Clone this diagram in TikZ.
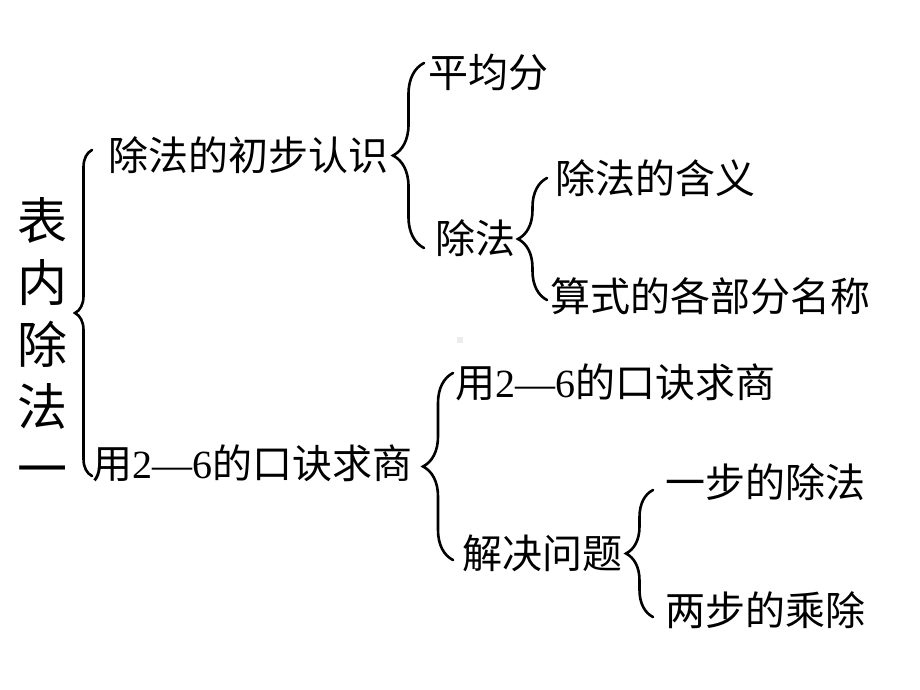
\documentclass[tikz,border=0pt]{standalone}
\usepackage{fontspec}
\setmainfont{Noto Sans CJK SC}
\newfontfamily\latfont{Liberation Serif}
\usetikzlibrary{decorations.pathreplacing}

\begin{document}
\begin{tikzpicture}[x=1pt,y=-1pt,
  every node/.style={inner sep=0pt, anchor=west, font=\fontsize{40}{48}\selectfont},
  kuo/.style={decorate, decoration={brace, amplitude=#1}, line width=2.6pt, line cap=round},
  kuo/.default=30pt]
  \useasboundingbox[fill=white] (0,0) rectangle (920,690);

  \node[anchor=center, align=center, font=\fontsize{50}{62}\selectfont] (root) at (42,342) {表\\内\\除\\法\\一};

  \node (a1) at (108,155) {除法的初步认识};
  \node (a2) at (92,463) {用{\latfont 2—6}的口诀求商};

  \node (b1) at (428,72) {平均分};
  \node (b2) at (435,238) {除法};
  \node (b3) at (455,382) {用{\latfont 2—6}的口诀求商};
  \node (b4) at (462,553) {解决问题};

  \node (c1) at (555,178) {除法的含义};
  \node (c2) at (550,296) {算式的各部分名称};
  \node (c3) at (665,482) {一步的除法};
  \node (c4) at (665,610) {两步的乘除};

  % brace ends
  \coordinate (k1t) at (92,150);  \coordinate (k1b) at (92,476);
  \coordinate (k2t) at (424,63);  \coordinate (k2b) at (424,248);
  \coordinate (k3t) at (547,178); \coordinate (k3b) at (547,300);
  \coordinate (k4t) at (453,373); \coordinate (k4b) at (453,560);
  \coordinate (k5t) at (653,490); \coordinate (k5b) at (653,617);

  \draw[kuo=17pt] (k1b) -- (k1t);
  \draw[kuo=31pt] (k2b) -- (k2t);
  \draw[kuo=29pt] (k3b) -- (k3t);
  \draw[kuo=30pt] (k4b) -- (k4t);
  \draw[kuo=27pt] (k5b) -- (k5t);

  \fill[gray!15] (457,337) rectangle (463,343);
\end{tikzpicture}
\end{document}
